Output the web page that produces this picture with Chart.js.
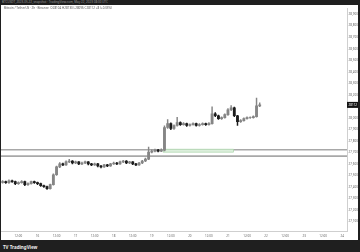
<!DOCTYPE html>
<html>
<head>
<meta charset="utf-8">
<script src="https://cdn.jsdelivr.net/npm/chart.js@4.4.0/dist/chart.umd.min.js"></script>
<style>
body{margin:0;width:360px;height:252px;background:#1f1f1f;position:relative;overflow:hidden;font-family:"Noto Sans",sans-serif}
#top{position:absolute;left:2px;top:0;font-size:3px;color:#9a9a9a;line-height:5px;white-space:nowrap}
#wrap{position:absolute;left:1px;top:5px;width:357px;height:235px;background:#fff}
#legend{position:absolute;left:4px;top:6px;font-size:3px;color:#555;line-height:4px;white-space:nowrap;z-index:2}
#logo{position:absolute;left:3px;top:244px;font-size:4.5px;line-height:6px;color:#eee;font-weight:bold}
</style>
</head>
<body>
<div id="top">BTCUSDT_2023-05-22_snapshot · TradingView.com, May 22, 2023 08:00 UTC</div>
<div id="wrap"><canvas id="myChart" width="357" height="235"></canvas></div>
<div id="legend">Bitcoin / TetherUS · 2h · Binance &nbsp;O28104 H28130 L28096 C28112 +8 (+0.03%)</div>
<div id="logo">TV TradingView</div>
<script>
// 2h candles, one slot per category
const open = [27440,27446,27437,27454,27446,27429,27437,27446,27420,27429,
    27446,27437,27429,27411,27403,27386,27420,27506,27574,27600,
    27591,27617,27625,27608,27617,27600,27608,27617,27600,27591,
    27600,27582,27574,27591,27582,27600,27608,27600,27617,27625,
    27608,27617,27600,27591,27608,27625,27642,27702,27711,27719,
    27711,27719,27916,27950,27907,27933,27959,27941,27950,27933,
    27941,27950,27933,27941,27950,27941,27950,28035,28018,27993,
    28001,28027,28070,28087,28018,27967,27976,27993,28001,28001,
    28010,28104];
const high = [27455,27452,27462,27460,27450,27444,27455,27450,27436,27452,
    27451,27442,27433,27416,27408,27426,27515,27582,27612,27608,
    27626,27640,27630,27624,27621,27615,27625,27620,27605,27607,
    27604,27588,27597,27596,27606,27615,27613,27624,27632,27628,
    27623,27620,27604,27614,27631,27650,27745,27722,27728,27726,
    27730,27930,27984,27956,27940,28005,27965,27958,27955,27948,
    27957,27954,27949,27956,27955,27958,28095,28045,28024,28009,
    28035,28080,28105,28092,28022,27985,28000,28008,28008,28018,
    28172,28130];
const low = [27432,27430,27431,27440,27420,27422,27433,27412,27414,27425,
    27430,27421,27404,27395,27378,27380,27415,27500,27568,27584,
    27586,27610,27600,27602,27593,27594,27603,27592,27584,27586,
    27575,27566,27570,27576,27578,27595,27594,27596,27611,27602,
    27603,27594,27585,27587,27603,27620,27636,27695,27705,27704,
    27706,27712,27908,27898,27900,27928,27934,27936,27926,27928,
    27936,27927,27928,27936,27935,27937,27945,28010,27985,27987,
    27996,28020,28062,28010,27935,27960,27970,27988,27994,27996,
    28005,28096];
const close = [27446,27437,27454,27446,27429,27437,27446,27420,27429,27446,
    27437,27429,27411,27403,27386,27420,27506,27574,27600,27591,
    27617,27625,27608,27617,27600,27608,27617,27600,27591,27600,
    27582,27574,27591,27582,27600,27608,27600,27617,27625,27608,
    27617,27600,27591,27608,27625,27642,27702,27711,27719,27711,
    27719,27916,27950,27907,27933,27959,27941,27950,27933,27941,
    27950,27933,27941,27950,27941,27950,28035,28018,27993,28001,
    28027,28070,28087,28018,27967,27976,27993,28001,28001,28010,
    28104,28112];

// drawn zone (two lines) and the green box
const zoneLevels = [27723, 27668];
const boxPrices = [27728, 27702];
const boxSlots = [50.6, 72.8];

const days = ['15','16','17','18','19','20','21','22','23','24'];
const slotCount = 109;
const times = [];
for (let i = 0; i < slotCount; i++) {
    let h = 2 + 2 * i;
    let d = days[Math.floor(h / 24)];
    let hh = h % 24;
    times.push(d + ' ' + (hh < 10 ? '0' + hh : hh) + ':00');
}

const upColor = '#858585';
const downColor = '#1c1c1c';
const colors = open.map((o, i) => close[i] >= o ? upColor : downColor);

const drawings = {
    id: 'drawings',
    beforeDatasetsDraw(chart) {
        const ctx = chart.ctx;
        const a = chart.chartArea;
        const x = chart.scales.x, y = chart.scales.y;
        ctx.save();
        ctx.strokeStyle = '#a8a8a8';
        ctx.lineWidth = 1.6;
        zoneLevels.forEach(p => {
            let py = y.getPixelForValue(p);
            ctx.beginPath();
            ctx.moveTo(a.left, py);
            ctx.lineTo(a.right, py);
            ctx.stroke();
        });
        let x1 = x.getPixelForValue(boxSlots[0]);
        let x2 = x.getPixelForValue(boxSlots[1]);
        let y1 = y.getPixelForValue(boxPrices[0]);
        let y2 = y.getPixelForValue(boxPrices[1]);
        ctx.fillStyle = '#dcefdc';
        ctx.fillRect(x1, y1, x2 - x1, y2 - y1);
        ctx.strokeStyle = '#9fcf9f';
        ctx.lineWidth = 0.6;
        ctx.strokeRect(x1, y1, x2 - x1, y2 - y1);
        ctx.restore();
    },
    afterDraw(chart) {
        const ctx = chart.ctx;
        const y = chart.scales.y;
        let last = close[close.length - 1];
        let py = y.getPixelForValue(last);
        ctx.save();
        ctx.fillStyle = '#131313';
        ctx.fillRect(y.left, py - 3, y.width, 6);
        ctx.fillStyle = '#fff';
        ctx.font = '3px "Noto Sans"';
        ctx.textBaseline = 'middle';
        ctx.fillText(String(last), y.left + 1.5, py);
        ctx.restore();
    }
};

const ctx = document.getElementById('myChart').getContext('2d');
const myChart = new Chart(ctx, {
    type: 'bar',
    data: {
        labels: times,
        datasets: [{
            label: 'wick',
            data: low.map((l, i) => [l, high[i]]),
            backgroundColor: colors,
            barThickness: 0.8,
            grouped: false,
            order: 2
        }, {
            label: 'body',
            data: open.map((o, i) => [Math.min(o, close[i]), Math.max(o, close[i])]),
            backgroundColor: colors,
            barThickness: 2.2,
            grouped: false,
            order: 1
        }]
    },
    options: {
        responsive: false,
        animation: false,
        devicePixelRatio: 1,
        layout: {padding: 0},
        plugins: {legend: {display: false}, tooltip: {enabled: false}},
        scales: {
            x: {
                offset: true,
                grid: {display: false, drawTicks: false, tickLength: 0},
                border: {color: '#cfcfcf'},
                ticks: {
                    autoSkip: false, maxRotation: 0, padding: 3,
                    font: {size: 3, family: 'Noto Sans'}, color: '#666',
                    callback: function(v, i) {
                        let parts = times[i].split(' ');
                        if (parts[1] === '00:00') return parts[0];
                        if (parts[1] === '12:00') return '12:00';
                        return null;
                    }
                },
                afterFit: s => { s.height = 9; }
            },
            y: {
                position: 'right',
                min: 27018,
                max: 28950,
                grid: {display: false, drawTicks: false, tickLength: 0},
                border: {color: '#cfcfcf'},
                ticks: {
                    padding: 1.5,
                    font: {size: 3, family: 'Noto Sans'}, color: '#666'
                },
                afterBuildTicks: s => {
                    let t = [];
                    for (let v = 28900; v >= 27050; v -= 50) t.push({value: v});
                    s.ticks = t;
                },
                afterFit: s => { s.width = 11; }
            }
        }
    },
    plugins: [drawings]
});
</script>
</body>
</html>
